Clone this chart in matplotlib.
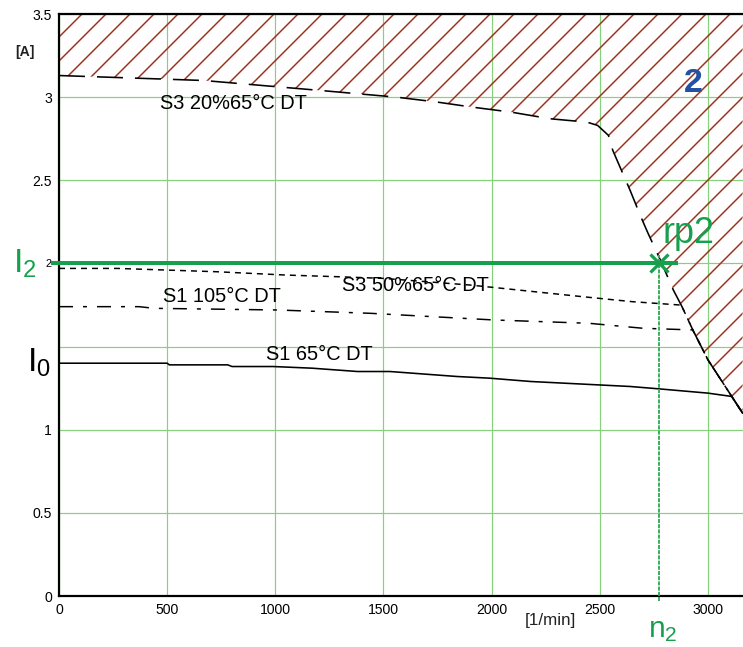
import numpy as np
import matplotlib
matplotlib.use('Agg')
from matplotlib import pyplot as plt

plt.rcParams['font.family'] = ['Liberation Sans', 'DejaVu Sans']
plt.rcParams['lines.scale_dashes'] = False
plt.rcParams['hatch.linewidth'] = 0.75

# speed [1/min] / current [A]
top_n = [0, 450, 670, 850, 1210, 1560, 1750, 1910, 2090, 2270, 2440, 2490, 2540, 2560,
         2600, 2640, 2690, 2720, 2780, 2840, 2880, 2930, 3000, 3060, 3110, 3160]
top_I = [3.13, 3.11, 3.10, 3.08, 3.04, 3.00, 2.97, 2.94, 2.91, 2.87, 2.85, 2.83, 2.77, 2.68,
         2.56, 2.44, 2.28, 2.19, 2.02, 1.84, 1.74, 1.60, 1.42, 1.30, 1.20, 1.10]

s3_50_n = [0, 270, 730, 1050, 1290, 1500, 1900, 2050, 2420, 2650, 2870]
s3_50_I = [1.97, 1.97, 1.95, 1.93, 1.92, 1.91, 1.87, 1.85, 1.80, 1.77, 1.75]

s1_105_n = [0, 370, 440, 1010, 1440, 2010, 2450, 2700, 2930]
s1_105_I = [1.74, 1.74, 1.73, 1.72, 1.70, 1.66, 1.64, 1.61, 1.60]

s1_65_n = [0, 500, 510, 780, 800, 990, 1170, 1380, 1530, 1840, 1990, 2180, 2410, 2640,
           2780, 3000, 3110, 3160]
s1_65_I = [1.40, 1.40, 1.39, 1.39, 1.38, 1.38, 1.37, 1.35, 1.35, 1.32, 1.31, 1.29, 1.275,
           1.26, 1.245, 1.22, 1.20, 1.10]

n2 = 2775
I2 = 2.0
I0 = 1.4

xticks = [0, 500, 1000, 1500, 2000, 2500, 3000]
yticks = [0, 0.5, 1, 1.5, 2, 2.5, 3, 3.5]
ylabels = ['0', '0.5', '1', '', '2', '2.5', '3', '3.5']

green = '#16a04e'
grid_green = '#86d27a'
hatch_col = '#9b3320'

fig = plt.figure(figsize=(743/144, 647/144), dpi=144)
ax = fig.add_axes([59/743, 51/647, 684/743, 582/647])

top_n = np.array(top_n); top_I = np.array(top_I)

# hatched forbidden area
ax.fill_between(top_n, top_I, 3.5, facecolor='none', edgecolor=hatch_col,
                hatch='//', linewidth=0)

# boundary tail shared by the lower curves
def with_tail(n, I):
    m = top_n > n[-1]
    return np.r_[n, top_n[m]], np.r_[I, top_I[m]]

ax.plot(top_n, top_I, color='k', lw=0.8, ls=(0, (13, 6)))
x, y = with_tail(s3_50_n, s3_50_I)
ax.plot(x, y, color='k', lw=0.75, ls=(0, (3, 2.5)))
x, y = with_tail(s1_105_n, s1_105_I)
ax.plot(x, y, color='k', lw=0.75, ls=(0, (7, 5, 2, 5)))
ax.plot(s1_65_n, s1_65_I, color='k', lw=0.8)

# working point
ax.plot([-30, n2 + 75], [I2, I2], color=green, lw=2, clip_on=False, zorder=5)
ax.plot([n2, n2], [-0.03, I2 + 0.05], color='#3fb060', lw=1.0, ls=(0, (2, 0.6)),
        clip_on=False, zorder=5)
ax.plot([n2], [I2], marker='x', color=green, ms=9, mew=1.6, zorder=6)

fs = 10
ax.text(467, 2.96, 'S3 20%65°C DT', fontsize=fs, va='center')
ax.text(1308, 1.87, 'S3 50%65°C DT', fontsize=fs, va='center')
ax.text(481, 1.80, 'S1 105°C DT', fontsize=fs, va='center')
ax.text(957, 1.45, 'S1 65°C DT', fontsize=fs, va='center')
ax.text(2790, 2.12, 'rp2', fontsize=18, color=green, va='baseline')
ax.text(2931, 3.08, '2', fontsize=17, color='#2450a4', fontweight='bold',
        ha='center', va='center')

ytr = ax.get_yaxis_transform()
xtr = ax.get_xaxis_transform()
ax.text(-0.067, I2, r'$\mathregular{I_2}$', transform=ytr, fontsize=17, color=green,
        ha='left', va='center')
ax.text(-0.047, I0, r'$\mathregular{I_0}$', transform=ytr, fontsize=17, color='k',
        ha='left', va='center')
ax.text(-0.05, 3.27, '[A]', transform=ytr, fontsize=7, ha='center', va='center',
        fontweight='bold', color='#222222')
ax.text(2270, -0.042, '[1/min]', transform=xtr, fontsize=8.5, ha='center', va='center',
        color='#222222')
ax.text(n2 + 15, -0.058, r'$\mathregular{n_2}$', transform=xtr, fontsize=15, color=green,
        ha='center', va='center')

ax.set_xlim(0, 3162)
ax.set_ylim(0, 3.5)
ax.set_xticks(xticks)
ax.set_xticklabels([str(t) for t in xticks])
ax.set_yticks(yticks)
ax.set_yticklabels(ylabels)
ax.tick_params(length=0, labelsize=7, pad=3.5)
ax.get_yticklabels()[4].set_fontsize(5.5)
ax.grid(True, color=grid_green, lw=0.6)
ax.set_axisbelow(True)

for s in ['left', 'bottom', 'top']:
    ax.spines[s].set_linewidth(1.1)
ax.spines['right'].set_visible(False)

fig.savefig('out.png', dpi=144)
